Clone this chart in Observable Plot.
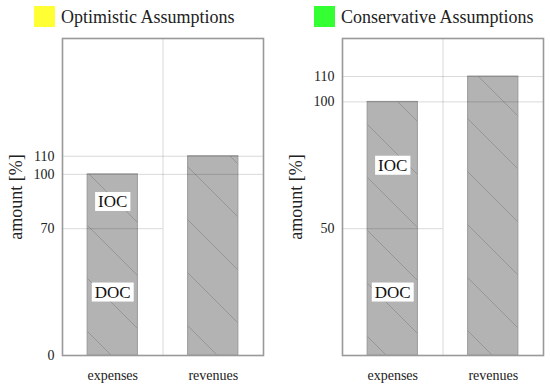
<!DOCTYPE html>
<html><head><meta charset="utf-8">
<script src="https://cdn.jsdelivr.net/npm/d3@7"></script>
<script src="https://cdn.jsdelivr.net/npm/@observablehq/plot@0.6"></script>
<style>
body{margin:0;background:#fff;font-family:"Liberation Serif","DejaVu Serif","Liberation Sans",sans-serif;}
#wrap{display:flex;width:550px;height:384px;}
.panel{width:275px;height:384px;position:relative;}
.legend{height:32px;position:relative;}
.sw{position:absolute;top:6px;width:21px;height:21px;}
.lt{position:absolute;top:8px;font-size:18px;line-height:1;color:#222;white-space:nowrap;}
.ylab{position:absolute;font-size:18px;line-height:1;color:#222;white-space:nowrap;transform:translate(-50%,-50%) rotate(-90deg);}
</style></head><body>
<svg width="0" height="0" style="position:absolute"><defs>
<pattern id="hatch" patternUnits="userSpaceOnUse" width="53" height="53">
<rect width="53" height="53" fill="#b3b3b3"/>
<path d="M0,0L53,53M-10,43L10,63M43,-10L63,10" stroke="#8a8a8a" stroke-width="0.7" fill="none"/>
</pattern></defs></svg>
<div id="wrap"></div>
<script>
const categories = ["expenses", "revenues"];
const segmentLabels = ["DOC", "IOC"];
const yLabel = "amount [%]";

const optimisticTitle = "Optimistic Assumptions";
const optimisticColor = "#ffff33";
const optimisticTotals = [100, 110];
const optimisticDOC = 70;
const optimisticTicks = [0, 70, 100, 110];
const optimisticMax = 175;

const conservativeTitle = "Conservative Assumptions";
const conservativeColor = "#33ff33";
const conservativeTotals = [100, 110];
const conservativeDOC = 50;
const conservativeTicks = [50, 100, 110];
const conservativeMax = 125;

const FONT = '"Liberation Serif","DejaVu Serif","Liberation Sans",sans-serif';

function panel(title, color, totals, doc, ticks, ymax, ml, mr, swX) {
  const div = document.createElement("div");
  div.className = "panel";
  const leg = document.createElement("div");
  leg.className = "legend";
  leg.innerHTML = `<div class="sw" style="left:${swX}px;background:${color}"></div><div class="lt" style="left:${swX + 27}px">${title}</div>`;
  div.appendChild(leg);

  const bars = categories.map((c, i) => ({i, v: totals[i]}));
  const labels = [
    {y: doc / 2, t: segmentLabels[0]},
    {y: (doc + totals[0]) / 2, t: segmentLabels[1]}
  ];
  const fullGrid = [...new Set(totals)];
  const gridStyle = {stroke: "#000", strokeOpacity: 0.15, strokeWidth: 1};

  const chart = Plot.plot({
    width: 275, height: 352,
    marginTop: 6, marginBottom: 29, marginLeft: ml, marginRight: mr,
    style: {fontFamily: FONT, fontSize: "14px", color: "#222", background: "white"},
    x: {domain: [-0.5, categories.length - 0.5]},
    y: {domain: [0, ymax]},
    marks: [
      Plot.ruleX([0.5], gridStyle),
      Plot.rectY(bars, {x1: d => d.i - 0.25, x2: d => d.i + 0.25, y1: 0, y2: "v", fill: "url(#hatch)", stroke: "#999", strokeWidth: 1}),
      Plot.ruleY(fullGrid, gridStyle),
      Plot.ruleY([doc], {...gridStyle, x1: -0.5, x2: 0.5}),
      Plot.text(labels, {x: 0, y: "y", text: "t", fontSize: 17, fill: "#111"}),
      Plot.frame({stroke: "#999", strokeWidth: 1.6}),
      Plot.axisX(categories.map((c, i) => i), {tickFormat: i => categories[i], tickSize: 0, tickPadding: 15, label: null}),
      Plot.axisY(ticks, {tickSize: 0, tickPadding: 8, label: null})
    ]
  });
  div.appendChild(chart);
  const yl = document.createElement("div");
  yl.className = "ylab";
  yl.textContent = yLabel;
  yl.style.left = (ml - 46) + "px";
  yl.style.top = (32 + 6 + (352 - 35) / 2) + "px";
  div.appendChild(yl);
  return div;
}

const wrap = document.getElementById("wrap");
wrap.appendChild(panel(optimisticTitle, optimisticColor, optimisticTotals, optimisticDOC, optimisticTicks, optimisticMax, 62, 12, 34));
wrap.appendChild(panel(conservativeTitle, conservativeColor, conservativeTotals, conservativeDOC, conservativeTicks, conservativeMax, 67, 7, 39));

// white boxes behind segment labels
document.querySelectorAll('svg g[aria-label="text"] text').forEach(t => {
  const b = t.getBBox();
  const r = document.createElementNS("http://www.w3.org/2000/svg", "rect");
  r.setAttribute("x", b.x - 3); r.setAttribute("y", b.y);
  r.setAttribute("width", b.width + 6); r.setAttribute("height", b.height);
  r.setAttribute("fill", "white");
  const tr = t.getAttribute("transform");
  if (tr) r.setAttribute("transform", tr);
  t.parentNode.insertBefore(r, t);
});
</script>
</body></html>
